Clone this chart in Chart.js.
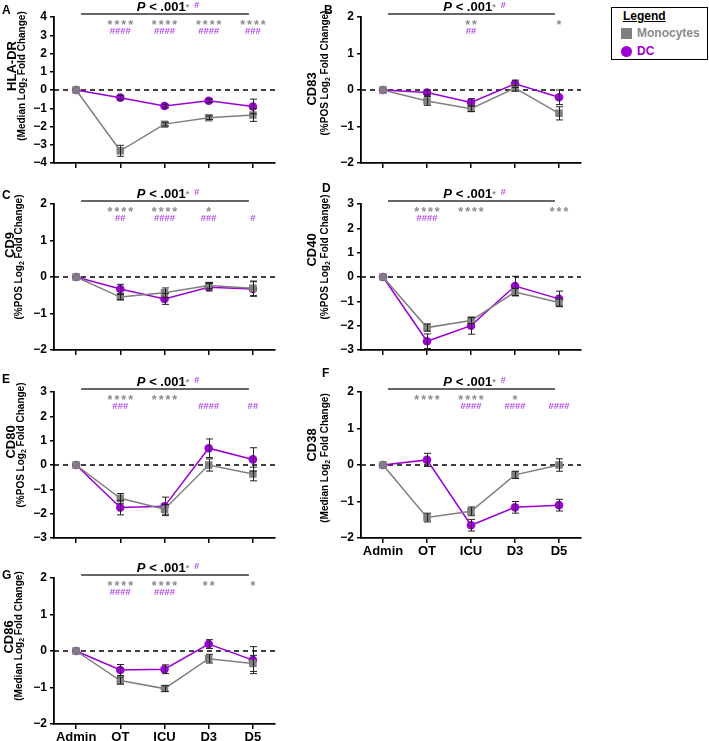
<!DOCTYPE html>
<html lang="en">
<head>
<meta charset="UTF-8">
<title>Marker fold change by time point</title>
<script src="https://cdn.jsdelivr.net/npm/chart.js"></script>
<style>
  body { margin: 0; width: 709px; height: 741px; background: #fff; position: relative; overflow: hidden;
         font-family: Arial, 'Liberation Sans', sans-serif; }
  canvas { position: absolute; }
  .letter { position: absolute; font-weight: bold; font-size: 12px; color: #000; }
  .legend { position: absolute; left: 611px; top: 7px; width: 97px; height: 53px; border: 1px solid #000;
            box-sizing: border-box; font-weight: bold; font-size: 12px; }
  .legend .hd { position: absolute; left: 11px; top: 1px; color: #000; text-decoration: underline; }
  .legend .row { position: absolute; left: 9px; height: 12px; line-height: 12px; }
  .legend .sw { display: inline-block; width: 11px; height: 11px; vertical-align: middle; margin-right: 5px; }
</style>
</head>
<body>
<div class="legend">
  <div class="hd">Legend</div>
  <div class="row" style="top:19px;color:#8a8a8a"><span class="sw" style="background:#7f7f7f"></span>Monocytes</div>
  <div class="row" style="top:37px;color:#9b00d4"><span class="sw" style="background:#9b00d4;border-radius:50%"></span>DC</div>
</div>

<script>
const categories = ['Admin', 'OT', 'ICU', 'D3', 'D5'];

// HLA-DR
const hlaMono = [0, -3.33, -1.87, -1.52, -1.37];
const hlaMonoErr = [0, 0.3, 0.1, 0.1, 0.35];
const hlaDc = [0, -0.42, -0.88, -0.59, -0.9];
const hlaDcErr = [0, 0.12, 0.1, 0.1, 0.4];
const hlaStars = ['', '****', '****', '****', '****'];
const hlaHashes = ['', '####', '####', '####', '###'];

// CD83
const cd83Mono = [0, -0.3, -0.51, 0.05, -0.64];
const cd83MonoErr = [0, 0.12, 0.08, 0.08, 0.18];
const cd83Dc = [0, -0.07, -0.34, 0.17, -0.2];
const cd83DcErr = [0, 0.07, 0.1, 0.1, 0.2];
const cd83Stars = ['', '', '**', '', '*'];
const cd83Hashes = ['', '', '##', '', ''];

// CD9
const cd9Mono = [0, -0.55, -0.43, -0.23, -0.31];
const cd9MonoErr = [0, 0.07, 0.13, 0.08, 0.2];
const cd9Dc = [0, -0.33, -0.6, -0.28, -0.33];
const cd9DcErr = [0, 0.13, 0.15, 0.1, 0.2];
const cd9Stars = ['', '****', '****', '*', ''];
const cd9Hashes = ['', '##', '####', '###', '#'];

// CD40
const cd40Mono = [0, -2.08, -1.79, -0.62, -1.05];
const cd40MonoErr = [0, 0.15, 0.12, 0.15, 0.15];
const cd40Dc = [0, -2.64, -2.0, -0.37, -0.9];
const cd40DcErr = [0, 0.3, 0.35, 0.4, 0.32];
const cd40Stars = ['', '****', '****', '', '***'];
const cd40Hashes = ['', '####', '', '', ''];

// CD80
const cd80Mono = [0, -1.37, -1.82, 0.0, -0.37];
const cd80MonoErr = [0, 0.2, 0.2, 0.25, 0.28];
const cd80Dc = [0, -1.75, -1.7, 0.69, 0.23];
const cd80DcErr = [0, 0.3, 0.38, 0.38, 0.48];
const cd80Stars = ['', '****', '****', '', ''];
const cd80Hashes = ['', '###', '', '####', '##'];

// CD38
const cd38Mono = [0, -1.44, -1.27, -0.27, 0.0];
const cd38MonoErr = [0, 0.12, 0.12, 0.1, 0.17];
const cd38Dc = [0, 0.14, -1.65, -1.16, -1.1];
const cd38DcErr = [0, 0.18, 0.16, 0.16, 0.16];
const cd38Stars = ['', '****', '****', '*', ''];
const cd38Hashes = ['', '', '####', '####', '####'];

// CD86
const cd86Mono = [0, -0.81, -1.03, -0.21, -0.34];
const cd86MonoErr = [0, 0.1, 0.08, 0.12, 0.22];
const cd86Dc = [0, -0.52, -0.5, 0.19, -0.25];
const cd86DcErr = [0, 0.15, 0.12, 0.12, 0.37];
const cd86Stars = ['', '****', '****', '**', '*'];
const cd86Hashes = ['', '####', '####', '', ''];

const GRAY = '#7f7f7f', PURPLE = '#9b00d4', STAR = '#8c8c8c', HASH = '#b548f0';
const FONT = "Arial, 'Liberation Sans', sans-serif";

// panel layout: canvas origin (page px), y-title centres (page px)
const panels = [
  { id: 'A', name: 'HLA-DR', unit: 'Median', min: -4, max: 4, mono: hlaMono, monoErr: hlaMonoErr, dc: hlaDc, dcErr: hlaDcErr,
    stars: hlaStars, hashes: hlaHashes, col: 0, row: 0, t1: [12, 66], t2: [22, 76], letter: [2, 3] },
  { id: 'B', name: 'CD83', unit: '%POS', min: -2, max: 2, mono: cd83Mono, monoErr: cd83MonoErr, dc: cd83Dc, dcErr: cd83DcErr,
    stars: cd83Stars, hashes: cd83Hashes, col: 1, row: 0, t1: [312, 89], t2: [325, 73], letter: [324, 3] },
  { id: 'C', name: 'CD9', unit: '%POS', min: -2, max: 2, mono: cd9Mono, monoErr: cd9MonoErr, dc: cd9Dc, dcErr: cd9DcErr,
    stars: cd9Stars, hashes: cd9Hashes, col: 0, row: 1, t1: [10, 245], t2: [19, 257], letter: [2, 188] },
  { id: 'D', name: 'CD40', unit: '%POS', min: -3, max: 3, mono: cd40Mono, monoErr: cd40MonoErr, dc: cd40Dc, dcErr: cd40DcErr,
    stars: cd40Stars, hashes: cd40Hashes, col: 1, row: 1, t1: [312, 250], t2: [325, 257], letter: [322, 181] },
  { id: 'E', name: 'CD80', unit: '%POS', min: -3, max: 3, mono: cd80Mono, monoErr: cd80MonoErr, dc: cd80Dc, dcErr: cd80DcErr,
    stars: cd80Stars, hashes: cd80Hashes, col: 0, row: 2, t1: [11, 442], t2: [21, 445], letter: [2, 372] },
  { id: 'F', name: 'CD38', unit: 'Median', min: -2, max: 2, mono: cd38Mono, monoErr: cd38MonoErr, dc: cd38Dc, dcErr: cd38DcErr,
    stars: cd38Stars, hashes: cd38Hashes, col: 1, row: 2, t1: [312, 445], t2: [325, 458], letter: [322, 366], labels: true },
  { id: 'G', name: 'CD86', unit: 'Median', min: -2, max: 2, mono: cd86Mono, monoErr: cd86MonoErr, dc: cd86Dc, dcErr: cd86DcErr,
    stars: cd86Stars, hashes: cd86Hashes, col: 0, row: 3, t1: [9, 637], t2: [19, 636], letter: [2, 568], labels: true }
];

const colBox = [
  { left: 0, width: 285, axisW: 54, padR: 10 },
  { left: 300, width: 290, axisW: 61, padR: 9 }
];
const rowTop = [0, 187, 375, 561];
const CANVAS_H = 183;

function drawRich(ctx, parts, cx, cy) {
  // parts: [text, font, color, dy]
  let total = 0;
  parts.forEach(p => { ctx.font = p[1]; total += ctx.measureText(p[0]).width; });
  let x = cx - total / 2;
  parts.forEach(p => {
    ctx.font = p[1]; ctx.fillStyle = p[2];
    ctx.fillText(p[0], x, cy + (p[3] || 0));
    x += ctx.measureText(p[0]).width;
  });
}

const markPlugin = {
  id: 'marks',
  beforeDatasetsDraw(chart) {
    const { ctx, chartArea, scales: { y } } = chart;
    const y0 = Math.round(y.getPixelForValue(0));
    ctx.save();
    ctx.strokeStyle = '#000';
    ctx.lineWidth = 1.6;
    ctx.setLineDash([5, 4]);
    ctx.beginPath();
    ctx.moveTo(chartArea.left, y0);
    ctx.lineTo(chartArea.right, y0);
    ctx.stroke();
    ctx.restore();
  },
  afterDatasetsDraw(chart) {
    const { ctx, scales: { x, y } } = chart;
    ctx.save();
    ctx.strokeStyle = '#222';
    ctx.lineWidth = 1;
    chart.data.datasets.forEach(ds => {
      ds.data.forEach((v, i) => {
        const e = ds.errors[i];
        if (!e) return;
        const px = Math.round(x.getPixelForValue(i)) + 0.5;
        const t = y.getPixelForValue(v + e), b = y.getPixelForValue(v - e);
        ctx.beginPath();
        ctx.moveTo(px, t); ctx.lineTo(px, b);
        ctx.moveTo(px - 3.5, t); ctx.lineTo(px + 3.5, t);
        ctx.moveTo(px - 3.5, b); ctx.lineTo(px + 3.5, b);
        ctx.stroke();
      });
    });
    ctx.restore();
  },
  afterDraw(chart) {
    const { ctx, chartArea, scales: { x } } = chart;
    const p = chart.options.plugins.marks.panel;
    const top = chartArea.top;
    const x0 = x.getPixelForValue(0) + 5, x4 = x.getPixelForValue(4) - 4;
    ctx.save();
    // overall bar and P value
    ctx.strokeStyle = '#333';
    ctx.lineWidth = 1.7;
    ctx.beginPath();
    ctx.moveTo(x0, top - 3);
    ctx.lineTo(x4, top - 3);
    ctx.stroke();
    ctx.textBaseline = 'alphabetic';
    ctx.textAlign = 'left';
    drawRich(ctx, [
      ['P', 'italic bold 13px ' + FONT, '#000'],
      [' < .001', 'bold 13px ' + FONT, '#000'],
      ['*', 'bold 9px ' + FONT, STAR, -1],
      ['  #', 'bold 9px ' + FONT, HASH, -3]
    ], (x0 + x4) / 2 + 3, top - 6);
    // per time point significance
    ctx.textAlign = 'center';
    p.stars.forEach((s, i) => {
      if (!s) return;
      ctx.font = 'bold 12.5px ' + FONT;
      ctx.letterSpacing = '2px';
      ctx.fillStyle = STAR;
      ctx.fillText(s, x.getPixelForValue(i) + 1, top + 12);
    });
    p.hashes.forEach((s, i) => {
      if (!s) return;
      ctx.font = 'bold 9.5px ' + FONT;
      ctx.letterSpacing = '0px';
      ctx.fillStyle = HASH;
      ctx.fillText(s, x.getPixelForValue(i), top + 16.5);
    });
    // y title, two lines
    const ox = chart.options.plugins.marks.ox, oy = chart.options.plugins.marks.oy;
    ctx.letterSpacing = '0px';
    ctx.textAlign = 'left';
    ctx.textBaseline = 'middle';
    ctx.save();
    ctx.translate(p.t1[0] - ox, p.t1[1] - oy);
    ctx.rotate(-Math.PI / 2);
    drawRich(ctx, [[p.name, 'bold 13px ' + FONT, '#000']], 0, 0);
    ctx.restore();
    ctx.save();
    ctx.translate(p.t2[0] - ox, p.t2[1] - oy);
    ctx.rotate(-Math.PI / 2);
    const f = 'bold 10px ' + FONT;
    drawRich(ctx, [
      ['(' + p.unit + ' Log', f, '#000'],
      ['2', 'bold 7px ' + FONT, '#000', 3],
      [' Fold Change)', f, '#000']
    ], 0, 0);
    ctx.restore();
    ctx.restore();
  }
};

panels.forEach(p => {
  const cb = colBox[p.col];
  const cv = document.createElement('canvas');
  cv.width = cb.width;
  cv.height = CANVAS_H;
  cv.style.left = cb.left + 'px';
  cv.style.top = rowTop[p.row] + 'px';
  document.body.appendChild(cv);

  const lt = document.createElement('div');
  lt.className = 'letter';
  lt.textContent = p.id;
  lt.style.left = p.letter[0] + 'px';
  lt.style.top = p.letter[1] + 'px';
  document.body.appendChild(lt);

  new Chart(cv, {
    type: 'line',
    data: {
      labels: categories,
      datasets: [
        { label: 'Monocytes', data: p.mono, errors: p.monoErr, borderColor: GRAY, backgroundColor: GRAY,
          borderWidth: 1.5, pointStyle: 'rect', pointRadius: 5.3, pointBorderWidth: 0, tension: 0 },
        { label: 'DC', data: p.dc, errors: p.dcErr, borderColor: PURPLE, backgroundColor: PURPLE,
          borderWidth: 1.5, pointStyle: 'circle', pointRadius: 4.3, pointBorderWidth: 0, tension: 0 }
      ]
    },
    options: {
      responsive: false,
      animation: false,
      devicePixelRatio: 1,
      layout: { padding: { top: 17, right: cb.padR, left: 0, bottom: 0 } },
      plugins: {
        legend: { display: false },
        tooltip: { enabled: false },
        marks: { panel: p, ox: cb.left, oy: rowTop[p.row] }
      },
      scales: {
        x: {
          type: 'category',
          offset: true,
          grid: { drawOnChartArea: false, tickLength: 5, color: '#000', lineWidth: 1.5 },
          border: { color: '#000', width: 1.8 },
          ticks: { color: '#000', font: { family: FONT, size: 13, weight: 'bold' }, padding: 1, maxRotation: 0,
                   callback: (v, i) => p.labels ? categories[i] : '' },
          afterFit: s => { s.height = 20; }
        },
        y: {
          min: p.min,
          max: p.max,
          grid: { drawOnChartArea: false, tickLength: 4, color: '#000', lineWidth: 1.5 },
          border: { color: '#000', width: 1.8 },
          ticks: { stepSize: 1, color: '#000', padding: 3, font: { family: FONT, size: 12, weight: 'bold' },
                   callback: v => String(v).replace('-', '\u2212') },
          afterFit: s => { s.width = cb.axisW; }
        }
      }
    },
    plugins: [markPlugin]
  });
});
</script>
</body>
</html>
